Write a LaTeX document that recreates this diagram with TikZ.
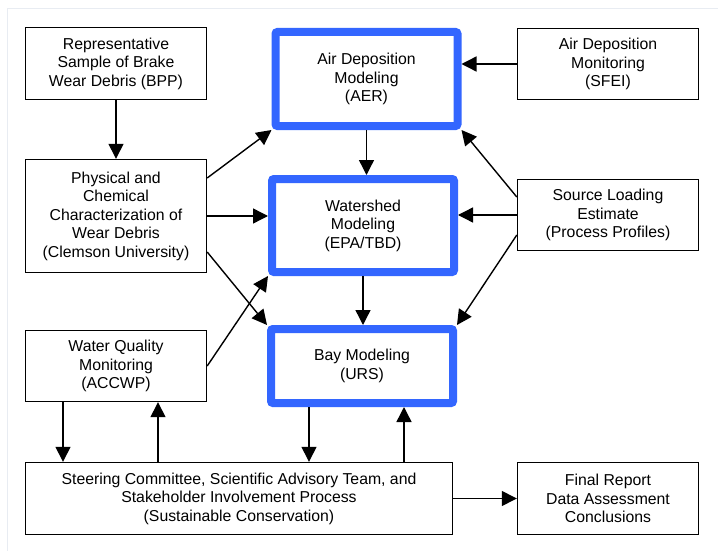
\documentclass[tikz,border=0pt]{standalone}
\usepackage{fontspec}
\setmainfont{Liberation Sans}
\usetikzlibrary{arrows.meta, calc}
\definecolor{modelblue}{RGB}{51,102,255}
\definecolor{framegray}{RGB}{232,236,242}
\begin{document}
\begin{tikzpicture}[x=1pt, y=-1pt, >={Triangle[length=15pt, width=15pt]},
    box/.style={draw, line width=1.4pt, minimum width=181pt, align=center, font=\fontsize{15.8}{18.5}\selectfont},
    model/.style={draw=modelblue, line width=8pt, rounded corners=2pt, minimum width=182pt, align=center, font=\fontsize{15.8}{18.5}\selectfont},
    flow/.style={->, line width=1.4pt}]
    \useasboundingbox (0,0) rectangle (718,551);
    \draw[framegray, line width=1pt] (7,551) -- (7,9) -- (718,9);

    \node[box, minimum height=72pt] (rep) at (116,63.5) {Representative\\Sample of Brake\\Wear Debris (BPP)};
    \node[box, minimum height=113pt] (phys) at (116,216) {Physical and\\Chemical\\Characterization of\\Wear Debris\\(Clemson University)};
    \node[box, minimum height=71pt] (wq) at (116,366) {Water Quality\\Monitoring\\(ACCWP)};
    \node[box, minimum height=72pt, minimum width=427pt] (steer) at (239,498.5) {Steering Committee, Scientific Advisory Team, and\\Stakeholder Involvement Process\\(Sustainable Conservation)};
    \node[box, minimum height=72pt] (final) at (608,498.5) {Final Report\\Data Assessment\\Conclusions};
    \node[box, minimum height=71pt] (airmon) at (608,64) {Air Deposition\\Monitoring\\(SFEI)};
    \node[box, minimum height=71pt] (source) at (608,215) {Source Loading\\Estimate\\(Process Profiles)};

    \node[model, minimum height=94pt] (airmod) at (366.5,79) {Air Deposition\\Modeling\\(AER)};
    \node[model, minimum height=93pt] (wshed) at (363,225.5) {Watershed\\Modeling\\(EPA/TBD)};
    \node[model, minimum height=74pt] (bay) at (362,366) {Bay Modeling\\(URS)};

    \coordinate (wqdown) at ($(wq.south)+(-53,0)$);
    \coordinate (wqup) at ($(wq.south)+(42,0)$);
    \coordinate (baydown) at ($(bay.south)+(-53,0)$);
    \coordinate (bayup) at ($(bay.south)+(42,0)$);

    \draw[flow] (rep) -- (phys);
    \draw[flow] ($(phys.east)+(0,-38)$) -- (airmod.south west);
    \draw[flow] (phys.east) -- (phys.east -| wshed.west);
    \draw[flow] ($(phys.east)+(0,36)$) -- (bay.north west);
    \draw[flow] (wq.east) -- (wshed.south west);
    \draw[flow] (airmod.south) -- (airmod.south |- wshed.north);
    \draw[flow] (wshed.south) -- (wshed.south |- bay.north);
    \draw[flow] (airmon.west) -- (airmon.west -| airmod.east);
    \draw[flow] ($(source.west)+(0,-18)$) -- (airmod.south east);
    \draw[flow] (source.west) -- (source.west -| wshed.east);
    \draw[flow] ($(source.west)+(0,20)$) -- (bay.north east);
    \draw[flow] (wqdown) -- (wqdown |- steer.north);
    \draw[flow] (wqup |- steer.north) -- (wqup);
    \draw[flow] (baydown) -- (baydown |- steer.north);
    \draw[flow] (bayup |- steer.north) -- (bayup);
    \draw[flow] (steer.east) -- (final.west);
\end{tikzpicture}
\end{document}
